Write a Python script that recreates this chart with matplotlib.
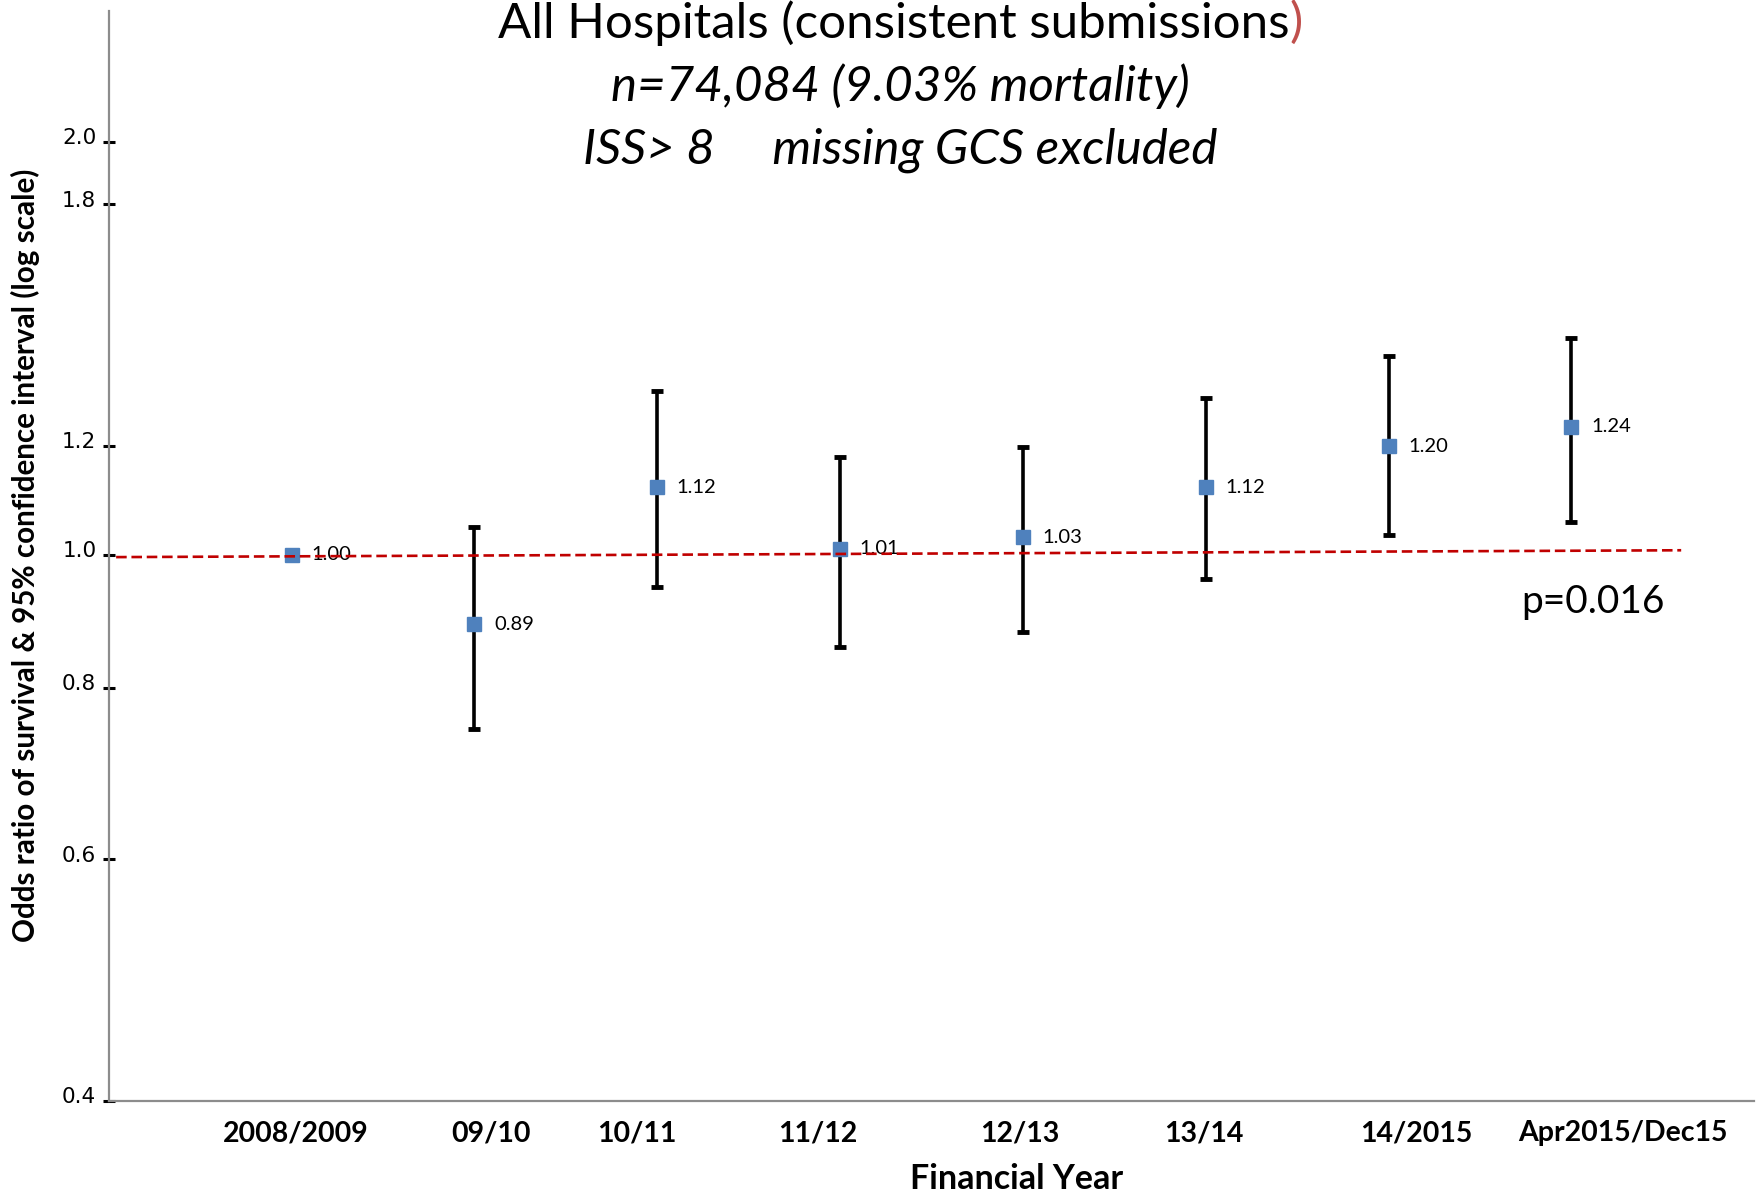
import matplotlib
matplotlib.use("Agg")
import matplotlib.pyplot as plt
import matplotlib.transforms as mtransforms
import numpy as np

# ---------------- data ----------------
categories = ["2008/2009", "09/10", "10/11", "11/12", "12/13", "13/14", "14/2015", "Apr2015/Dec15"]
odds_ratio = [1.00, 0.89, 1.12, 1.01, 1.03, 1.12, 1.20, 1.24]
ci_low = [1.00, 0.747, 0.948, 0.856, 0.879, 0.960, 1.033, 1.057]
ci_high = [1.00, 1.047, 1.317, 1.179, 1.198, 1.300, 1.395, 1.439]
point_labels = ["1.00", "0.89", "1.12", "1.01", "1.03", "1.12", "1.20", "1.24"]
ytick_values = [0.4, 0.6, 0.8, 1.0, 1.2, 1.8, 2.0]
ytick_labels = ["0.4", "0.6", "0.8", "1.0", "1.2", "1.8", "2.0"]
ref_line_x = [-0.96, 7.6]
ref_line_y = [0.996, 1.0075]
p_value_text = "p=0.016"
title_lines = ["All Hospitals (consistent submissions", "n=74,084 (9.03% mortality)",
               "ISS> 8     missing GCS excluded"]

# ---------------- layout / style ----------------
label_shift = [0.02, 0.09, -0.11, -0.12, -0.02, -0.01, 0.15, 0.28]
FONT = ["Lato", "DejaVu Sans"]
BLUE = "#4f81bd"
RED = "#c00000"
GRAY = "#8c8c8c"
TITLE_SIZE = 35.5

fig = plt.figure(figsize=(17.58, 11.95), dpi=100)
ax = fig.add_axes([0.0619, 0.0788, 0.936, 0.912])

x = np.arange(len(categories))
y = np.array(odds_ratio)
err = np.vstack([y - np.array(ci_low), np.array(ci_high) - y])

ax.errorbar(x[1:], y[1:], yerr=err[:, 1:], fmt="none", ecolor="black",
            elinewidth=2.6, capsize=4.5, capthick=3.5, zorder=2)
ax.plot(x, y, linestyle="none", marker="s", markersize=10.5,
        markerfacecolor=BLUE, markeredgecolor=BLUE, zorder=3)
for xi, yi, lab in zip(x, y, point_labels):
    ax.annotate(lab, (xi, yi), xytext=(14, 0), textcoords="offset points",
                ha="left", va="center", fontsize=14.5, family=FONT, zorder=4)

ax.plot(ref_line_x, ref_line_y, color=RED, linewidth=1.9, dashes=(4, 1.8), zorder=5)

ax.text(7.12, 0.924, p_value_text, fontsize=28, family=FONT, ha="center", va="center")

ax.set_yscale("log")
ax.set_ylim(0.4, 2.49)
ax.set_xlim(-1.0, 8.0)
ax.yaxis.set_major_locator(matplotlib.ticker.FixedLocator(ytick_values))
ax.yaxis.set_minor_locator(matplotlib.ticker.NullLocator())
ax.set_yticklabels(ytick_labels)
ax.tick_params(axis="y", direction="inout", length=8, width=2.2, color="black",
               labelsize=15.5, pad=5)
offset = mtransforms.ScaledTranslation(0, 4 / 72, fig.dpi_scale_trans)
for lbl in ax.get_yticklabels():
    lbl.set_family("DejaVu Sans")
    lbl.set_transform(lbl.get_transform() + offset)

ax.set_xticks(x + np.array(label_shift))
ax.set_xticklabels(categories, fontsize=20.5, fontweight="bold", family=FONT)
ax.tick_params(axis="x", length=0, pad=14)

for s in ["top", "right"]:
    ax.spines[s].set_visible(False)
for s in ["left", "bottom"]:
    ax.spines[s].set_color(GRAY)
    ax.spines[s].set_linewidth(1.6)

fig.text(0.5785, 0.013, "Financial Year", fontsize=24.5, fontweight="bold", family=FONT,
         ha="center", va="center")
fig.text(0.0147, 0.535, "Odds ratio of survival & 95% confidence interval (log scale)",
         rotation=90, fontsize=21.3, fontweight="bold", family=FONT, ha="center", va="center")

# title: first line with red closing parenthesis
fig.canvas.draw()
renderer = fig.canvas.get_renderer()
inv = fig.transFigure.inverted()
probe = fig.text(0.512, 0.981, title_lines[0] + ")", fontsize=TITLE_SIZE, family=FONT,
                 ha="center", va="center")
bb = probe.get_window_extent(renderer)
probe.remove()
x0 = inv.transform((bb.x0, 0))[0]
tmain = fig.text(x0, 0.981, title_lines[0], fontsize=TITLE_SIZE, family=FONT,
                 ha="left", va="center")
bb2 = tmain.get_window_extent(renderer)
x1 = inv.transform((bb2.x1, 0))[0]
fig.text(x1, 0.981, ")", fontsize=TITLE_SIZE, family=FONT, ha="left", va="center",
         color="#c0504d")
fig.text(0.512, 0.928, title_lines[1], fontsize=TITLE_SIZE, family=FONT, style="italic",
         ha="center", va="center")
fig.text(0.512, 0.874, title_lines[2], fontsize=TITLE_SIZE, family=FONT, style="italic",
         ha="center", va="center")

fig.savefig("out.png", dpi=100)
